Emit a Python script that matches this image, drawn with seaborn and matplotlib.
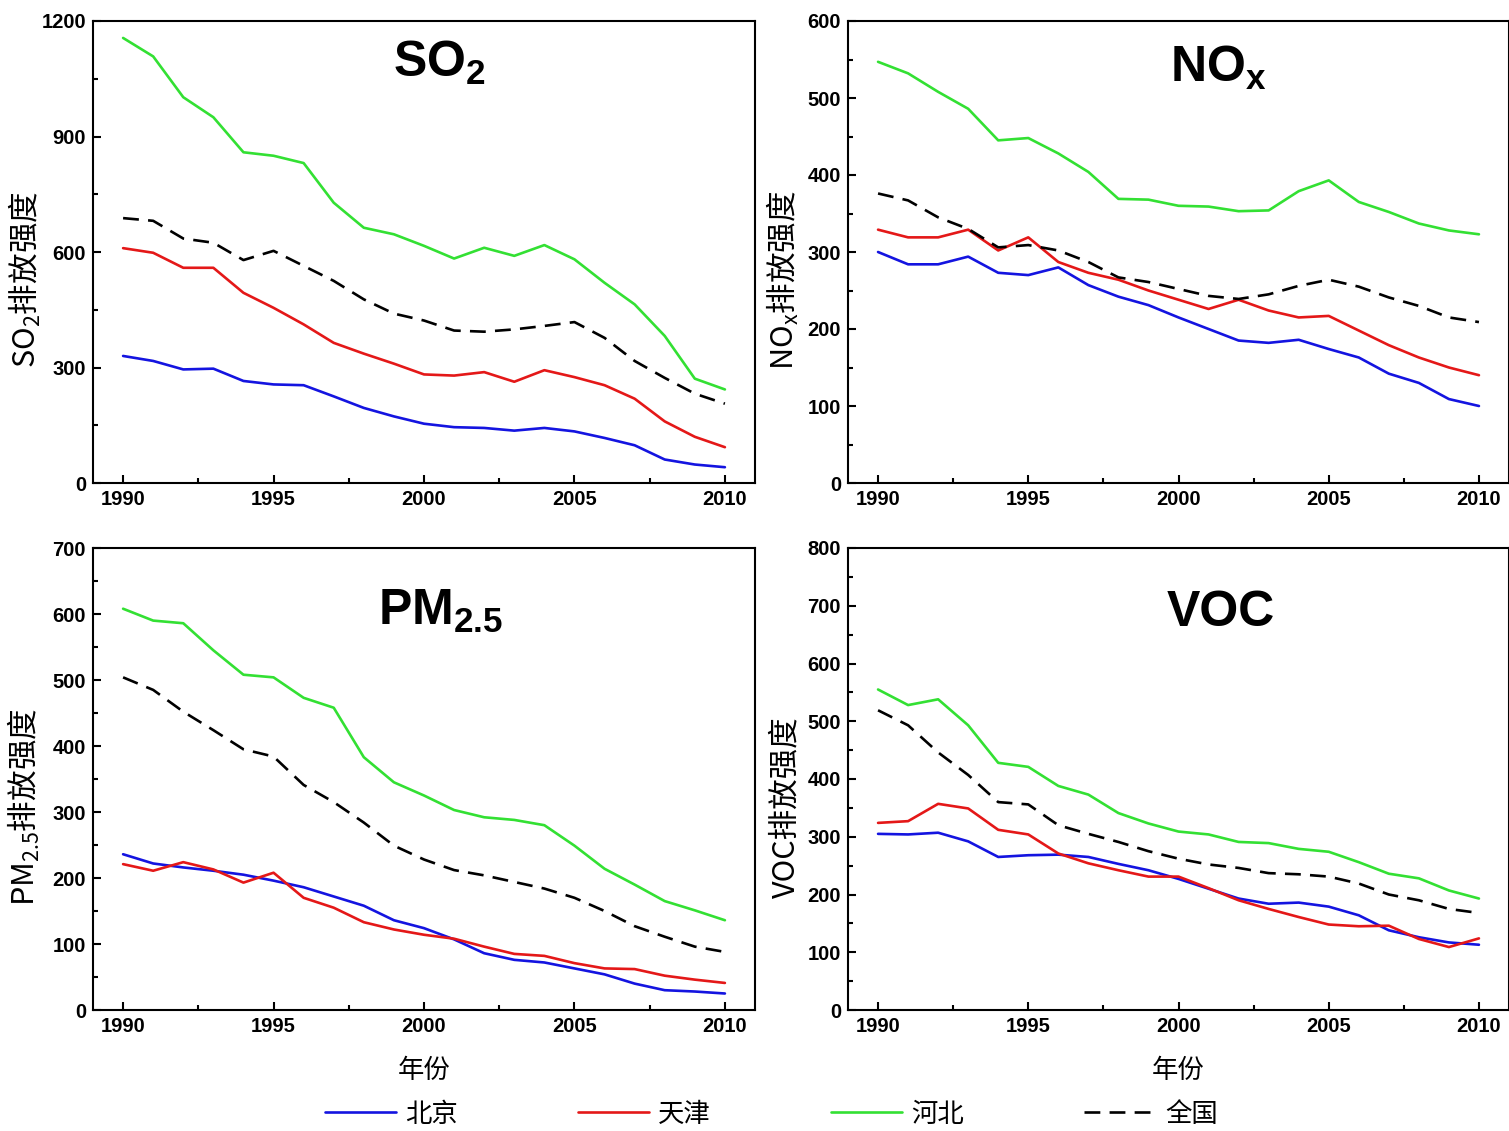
import numpy as np
import pandas as pd
import matplotlib
matplotlib.use("Agg")
import matplotlib.pyplot as plt
from matplotlib.ticker import MultipleLocator
import seaborn as sns

# ---- data: emission intensity by region, 1990-2010 ----
years = list(range(1990, 2011))
regions = ["北京", "天津", "河北", "全国"]

so2_beijing = [330, 317, 295, 297, 265, 256, 254, 225, 195, 173, 154, 145, 143, 136, 143, 134, 117, 98, 61, 48, 41]
so2_tianjin = [610, 598, 559, 559, 494, 455, 412, 364, 336, 310, 282, 279, 288, 263, 293, 275, 254, 219, 160, 120, 93]
so2_hebei = [1156, 1108, 1002, 950, 859, 850, 831, 728, 663, 646, 616, 583, 611, 590, 618, 581, 520, 464, 382, 271, 243]
so2_china = [688, 681, 635, 624, 579, 603, 564, 525, 477, 440, 422, 396, 393, 399, 408, 418, 377, 317, 273, 232, 206]

nox_beijing = [300, 284, 284, 294, 273, 270, 280, 257, 242, 231, 215, 200, 185, 182, 186, 174, 163, 142, 130, 109, 100]
nox_tianjin = [329, 319, 319, 329, 302, 319, 287, 273, 264, 250, 238, 226, 238, 224, 215, 217, 198, 179, 163, 150, 140]
nox_hebei = [547, 532, 508, 486, 445, 448, 428, 404, 369, 368, 360, 359, 353, 354, 379, 393, 365, 352, 337, 328, 323]
nox_china = [376, 367, 345, 330, 306, 309, 302, 287, 267, 261, 252, 243, 239, 245, 256, 264, 255, 241, 230, 215, 209]

pm_beijing = [236, 222, 216, 211, 205, 196, 186, 172, 158, 136, 124, 107, 86, 76, 72, 63, 54, 40, 30, 28, 25]
pm_tianjin = [221, 211, 224, 213, 193, 208, 170, 155, 133, 122, 114, 108, 96, 85, 82, 71, 63, 62, 52, 46, 41]
pm_hebei = [608, 590, 586, 545, 508, 504, 473, 458, 383, 345, 325, 303, 292, 288, 280, 249, 214, 190, 165, 151, 136]
pm_china = [504, 485, 452, 424, 395, 384, 341, 315, 284, 249, 228, 212, 204, 194, 184, 170, 150, 127, 111, 96, 88]

voc_beijing = [305, 304, 307, 292, 265, 268, 269, 265, 253, 242, 227, 210, 193, 184, 186, 179, 164, 138, 126, 117, 113]
voc_tianjin = [324, 327, 357, 349, 312, 304, 271, 254, 242, 231, 231, 211, 190, 175, 161, 148, 145, 146, 123, 109, 124]
voc_hebei = [555, 528, 538, 493, 428, 421, 388, 373, 341, 323, 309, 304, 291, 289, 279, 274, 256, 236, 228, 207, 193]
voc_china = [519, 493, 446, 407, 360, 356, 320, 305, 291, 275, 262, 252, 246, 237, 235, 231, 219, 200, 190, 175, 168]

titles = ["SO$_{2}$", "NO$_{x}$", "PM$_{2.5}$", "VOC"]
ylabels = ["SO$_{2}$排放强度", "NO$_{x}$排放强度", "PM$_{2.5}$排放强度", "VOC排放强度"]
ymax = [1200, 600, 700, 800]
ystep = [300, 100, 100, 100]
series = [
    [so2_beijing, so2_tianjin, so2_hebei, so2_china],
    [nox_beijing, nox_tianjin, nox_hebei, nox_china],
    [pm_beijing, pm_tianjin, pm_hebei, pm_china],
    [voc_beijing, voc_tianjin, voc_hebei, voc_china],
]

palette = {"北京": "#1414e0", "天津": "#e41818", "河北": "#33e033", "全国": "#000000"}
dashes = {"北京": "", "天津": "", "河北": "", "全国": (6, 3.5)}

sns.set_theme(style="ticks")
plt.rcParams["font.family"] = ["Liberation Sans", "Noto Sans CJK SC"]
plt.rcParams["mathtext.default"] = "regular"
plt.rcParams["axes.linewidth"] = 1.5
for key in ["text.color", "axes.labelcolor", "xtick.color", "ytick.color", "axes.edgecolor"]:
    plt.rcParams[key] = "black"

W, H = 1509, 1131
fig = plt.figure(figsize=(W / 100, H / 100), dpi=100)

# panel boxes in pixels: left, top, width, height
boxes = [(93, 21, 662, 462), (848, 21, 661, 462), (93, 548, 662, 462), (848, 548, 661, 462)]
title_pos = [(0.523, 0.879), (0.561, 0.868), (0.525, 0.833), (0.564, 0.831)]
ylabel_x = [-0.076, -0.071, -0.077, -0.071]

cjk = ["Noto Sans CJK SC", "Liberation Sans"]

for i in range(4):
    l, t, w, h = boxes[i]
    ax = fig.add_axes([l / W, 1 - (t + h) / H, w / W, h / H])
    df = pd.DataFrame({
        "年份": years * 4,
        "value": sum(series[i], []),
        "region": sum([[r] * len(years) for r in regions], []),
    })
    sns.lineplot(data=df, x="年份", y="value", hue="region", style="region",
                 palette=palette, dashes=dashes, hue_order=regions, style_order=regions,
                 linewidth=1.9, legend=False, ax=ax)
    ax.set_xlim(1989, 2011)
    ax.set_ylim(0, ymax[i])
    ax.xaxis.set_major_locator(MultipleLocator(5))
    ax.xaxis.set_minor_locator(MultipleLocator(2.5))
    ax.yaxis.set_major_locator(MultipleLocator(ystep[i]))
    ax.yaxis.set_minor_locator(MultipleLocator(ystep[i] / 2))
    ax.tick_params(which="both", direction="in", top=False, right=False, width=1.5)
    ax.tick_params(which="major", length=6, labelsize=14.5, pad=5)
    ax.tick_params(which="minor", length=3.5)
    for lab in ax.get_xticklabels() + ax.get_yticklabels():
        lab.set_fontweight("bold")
    for s in ax.spines.values():
        s.set_visible(True)
        s.set_linewidth(1.5)
        s.set_color("black")
    ax.set_ylabel(ylabels[i], fontsize=22, family=cjk)
    ax.yaxis.set_label_coords(ylabel_x[i], 0.44)
    if i >= 2:
        ax.set_xlabel("年份", fontsize=19, family=cjk, labelpad=15)
    else:
        ax.set_xlabel("")
    ax.text(title_pos[i][0], title_pos[i][1], titles[i], transform=ax.transAxes,
            ha="center", va="baseline", fontsize=36, fontweight="bold")
    if i == 0:
        handles = ax.get_lines()[:4]

leg = fig.legend(handles, regions, loc="center", bbox_to_anchor=(0.511, 1 - 1114 / H),
                 ncol=4, frameon=False, handlelength=2.7, handletextpad=0.35,
                 columnspacing=4.55, prop={"family": cjk, "size": 19})

fig.savefig("out.png", dpi=100)
